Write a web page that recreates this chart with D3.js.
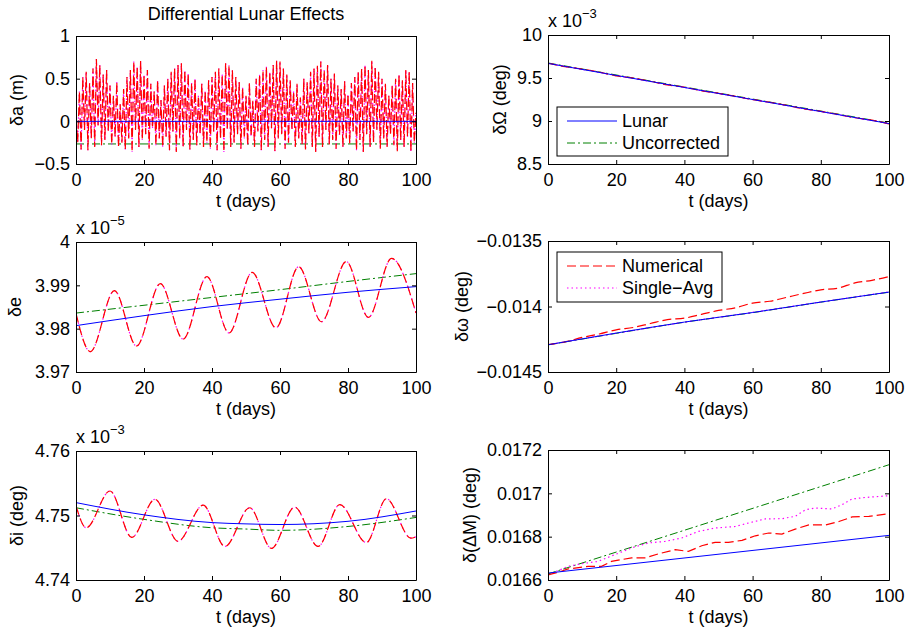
<!DOCTYPE html>
<html><head><meta charset="utf-8">
<script src="https://cdn.jsdelivr.net/npm/d3@7"></script>
<style>
body{margin:0;background:#fff}
svg{display:block}
text{font-family:"Liberation Sans",Arial,Helvetica,sans-serif;fill:#000}
</style>
</head><body>
<svg id="c" width="911" height="631"></svg>
<script>
// ---------- shared ----------
const xTicks = [0, 20, 40, 60, 80, 100];
const xTickLabels = ["0", "20", "40", "60", "80", "100"];
const seriesNames = ["Numerical", "Single\u2212Avg", "Lunar", "Uncorrected"];

// ---------- panel 1 : delta a (m) ----------
const tA = d3.range(0, 100.01, 0.5);
const numA = [
 0.05,-0.25,0.35,-0.33,0.52,-0.1,0.58,-0.34,0.45,-0.2,0.62,-0.3,0.73,-0.05,0.66,-0.28,0.55,-0.22,0.6,-0.12,
 0.42,-0.27,0.3,-0.18,0.46,-0.3,0.2,-0.25,0.38,-0.33,0.52,-0.2,0.6,-0.36,0.7,-0.1,0.64,-0.3,0.71,-0.22,
 0.55,-0.15,0.6,-0.32,0.44,-0.08,0.35,-0.28,0.48,-0.2,0.25,-0.3,0.42,-0.18,0.5,-0.34,0.58,-0.12,0.62,-0.36,
 0.66,-0.2,0.68,-0.3,0.6,-0.1,0.56,-0.33,0.45,-0.22,0.5,-0.28,0.3,-0.15,0.44,-0.3,0.36,-0.25,0.48,-0.32,
 0.52,-0.12,0.58,-0.34,0.62,-0.2,0.55,-0.36,0.68,-0.1,0.66,-0.3,0.6,-0.25,0.52,-0.15,0.46,-0.32,0.4,-0.2,
 0.3,-0.28,0.45,-0.18,0.24,-0.3,0.5,-0.12,0.55,-0.34,0.6,-0.22,0.64,-0.3,0.58,-0.08,0.66,-0.35,0.71,-0.2,
 0.7,-0.15,0.62,-0.32,0.55,-0.25,0.48,-0.1,0.35,-0.3,0.44,-0.2,0.28,-0.27,0.5,-0.33,0.46,-0.14,0.58,-0.3,
 0.62,-0.36,0.65,-0.18,0.7,-0.3,0.6,-0.1,0.66,-0.27,0.5,-0.22,0.56,-0.32,0.42,-0.16,0.38,-0.3,0.47,-0.2,
 0.32,-0.26,0.45,-0.12,0.52,-0.34,0.58,-0.22,0.62,-0.36,0.66,-0.15,0.6,-0.3,0.71,-0.25,0.64,-0.1,0.58,-0.32,
 0.5,-0.2,0.44,-0.3,0.3,-0.15,0.42,-0.28,0.5,-0.35,0.55,-0.22,0.48,-0.3,0.6,-0.18,0.58,-0.36,0.45,-0.25,0.1
];
const singleA = numA;
const tLinA = [0, 100];
const lunarA = [0, 0];
const uncA = [-0.265, -0.265];

// ---------- panel 2 : delta Omega (x1e-3 deg) ----------
const tO = [0,5,10,15,20,25,30,35,40,45,50,55,60,65,70,75,80,85,90,95,100];
const numO = [9.672,9.632,9.604,9.570,9.524,9.498,9.462,9.420,9.394,9.350,9.322,9.286,9.248,9.218,9.182,9.140,9.112,9.076,9.038,9.010,8.966];
const singleO = [9.671,9.634,9.601,9.567,9.527,9.496,9.460,9.423,9.391,9.353,9.320,9.284,9.250,9.216,9.180,9.143,9.110,9.074,9.040,9.006,8.968];
const tLinO = [0, 100];
const lunarO = [9.670, 8.970];
const uncO = [9.675, 8.976];

// ---------- panel 3 : delta e (x1e-5) ----------
const tE = [0,4.2,11.3,17.8,24.8,31.5,38.5,45,51.8,58.8,65.5,72.2,79.5,86,92.8,100];
const numE = [3.9835,3.9747,3.9888,3.9760,3.9904,3.9776,3.9920,3.9790,3.9930,3.9802,3.9943,3.9816,3.9955,3.9826,3.9962,3.9836];
const singleE = numE;
const tSmoothE = [0,20,40,60,80,100];
const lunarE = [3.9807,3.9830,3.9851,3.9868,3.9884,3.9897];
const uncE = [3.9836,3.9854,3.9872,3.9890,3.9909,3.9927];

// ---------- panel 4 : delta omega (deg) ----------
const tW = [0,5,10,15,20,25,30,35,40,45,50,55,60,65,70,75,80,85,90,95,100];
const numW = [-0.01429,-0.01427,-0.014236,-0.01421,-0.014178,-0.01416,-0.01413,-0.01410,-0.014089,-0.01406,-0.01403,-0.01401,-0.013974,-0.01396,-0.01393,-0.01390,-0.013873,-0.01386,-0.01382,-0.01380,-0.013771];
const tSmoothW = [0,20,40,60,80,100];
const singleW = [-0.014292,-0.014204,-0.014120,-0.014045,-0.013966,-0.013889];
const lunarW = [-0.014292,-0.014203,-0.014119,-0.014046,-0.013966,-0.013890];
const uncW = [-0.014293,-0.014205,-0.014120,-0.014047,-0.013967,-0.013891];

// ---------- panel 5 : delta i (x1e-3 deg) ----------
const tI = [0,3,10,16.4,23.2,30,37.4,43.8,51.1,57.5,64.3,71.2,77.6,85.4,91.3,98.5,100];
const numI = [4.7515,4.7481,4.7538,4.7466,4.7525,4.7460,4.7516,4.7452,4.7512,4.7449,4.7513,4.7452,4.7517,4.7458,4.7526,4.7465,4.7467];
const singleI = numI;
const tSmoothI = [0,20,40,50,60,80,100];
const lunarI = [4.7520,4.7501,4.7489,4.7487,4.7486,4.7491,4.7507];
const uncI = [4.7512,4.7494,4.7481,4.7479,4.7477,4.7483,4.7497];

// ---------- panel 6 : delta (Delta M) (deg) ----------
const tM = [0,2.9,5.9,11.8,15.7,18.6,24.5,28.4,32.4,37.3,41.2,45.1,49,52.9,56.9,60.8,64.7,68.6,72.5,76.5,81.4,85.3,89.2,94.1,100];
const numM = [0.016624,0.016635,0.016651,0.016663,0.016663,0.016686,0.016702,0.016702,0.016721,0.016740,0.016732,0.016758,0.016774,0.016774,0.016783,0.016804,0.016817,0.016812,0.016835,0.016854,0.016854,0.016870,0.016891,0.016894,0.016906];
const tS = [0,5.9,9.8,14.7,19.6,24.5,29.4,34.3,39.2,44.1,49,54.9,58.8,63.7,68.6,72.5,75.5,78.4,83.3,86.3,89.2,93.1,100];
const singleM = [0.016624,0.016663,0.016675,0.016686,0.016717,0.016748,0.016771,0.016778,0.016794,0.016824,0.016840,0.016847,0.016863,0.016882,0.016883,0.016894,0.016924,0.016932,0.016928,0.016948,0.016974,0.016981,0.016989];
const tLinM = [0, 100];
const lunarM = [0.016632, 0.016806];
const uncM = [0.016628, 0.017132];

// ---------- styles ----------
const style = {
  num:   {color:"#ff0000", dash:"9,4", width:1.2},
  single:{color:"#ff00ff", dash:"1.5,3", width:1.2},
  lunar: {color:"#0000ff", dash:null, width:1},
  unc:   {color:"#008000", dash:"8,3,2,3", width:1}
};

const zip = (t, v) => t.map((d, i) => [d, v[i]]);

const panels = [
  {x:76, y:36, w:340, h:128, dom:[-0.5,1], ticks:[-0.5,0,0.5,1], labels:["\u22120.5","0","0.5","1"],
   ylabel:"\u03b4a (m)", ylx:17, exp:null, curve:d3.curveLinear,
   series:[["unc",zip(tLinA,uncA)],["single",zip(tA,singleA)],["num",zip(tA,numA)],["lunar",zip(tLinA,lunarA)]]},
  {x:548, y:35, w:341, h:129, dom:[8.5,10], ticks:[8.5,9,9.5,10], labels:["8.5","9","9.5","10"],
   ylabel:"\u03b4\u03a9 (deg)", ylx:500, exp:"\u22123", curve:d3.curveMonotoneX,
   series:[["unc",zip(tLinO,uncO)],["single",zip(tO,singleO)],["num",zip(tO,numO)],["lunar",zip(tLinO,lunarO)]],
   legend:{x:557, y:107, w:171, h:49, items:["lunar","unc"], names:["Lunar","Uncorrected"]}},
  {x:76, y:242, w:340, h:130, dom:[3.97,4.0], ticks:[3.97,3.98,3.99,4.0], labels:["3.97","3.98","3.99","4"],
   ylabel:"\u03b4e", ylx:15, exp:"\u22125", curve:d3.curveMonotoneX,
   series:[["unc",zip(tSmoothE,uncE)],["single",zip(tE,singleE)],["num",zip(tE,numE)],["lunar",zip(tSmoothE,lunarE)]]},
  {x:548, y:241, w:341, h:131, dom:[-0.0145,-0.0135], ticks:[-0.0145,-0.014,-0.0135], labels:["\u22120.0145","\u22120.014","\u22120.0135"],
   ylabel:"\u03b4\u03c9 (deg)", ylx:462, exp:null, curve:d3.curveMonotoneX,
   series:[["unc",zip(tSmoothW,uncW)],["single",zip(tSmoothW,singleW)],["num",zip(tW,numW)],["lunar",zip(tSmoothW,lunarW)]],
   legend:{x:557, y:252, w:165, h:50, items:["num","single"], names:["Numerical","Single\u2212Avg"]}},
  {x:76, y:451, w:340, h:129, dom:[4.74,4.76], ticks:[4.74,4.75,4.76], labels:["4.74","4.75","4.76"],
   ylabel:"\u03b4i (deg)", ylx:17, exp:"\u22123", curve:d3.curveMonotoneX,
   series:[["unc",zip(tSmoothI,uncI)],["single",zip(tI,singleI)],["num",zip(tI,numI)],["lunar",zip(tSmoothI,lunarI)]]},
  {x:548, y:450, w:341, h:130, dom:[0.0166,0.0172], ticks:[0.0166,0.0168,0.017,0.0172], labels:["0.0166","0.0168","0.017","0.0172"],
   ylabel:"\u03b4(\u0394M) (deg)", ylx:470, exp:null, curve:d3.curveLinear,
   series:[["unc",zip(tLinM,uncM)],["single",zip(tS,singleM)],["num",zip(tM,numM)],["lunar",zip(tLinM,lunarM)]]}
];

const svg = d3.select("#c");
const FS = 18;

svg.append("text").attr("x", 246).attr("y", 20).attr("text-anchor","middle")
  .style("font-size", FS + "px").text("Differential Lunar Effects");

panels.forEach(p => {
  const g = svg.append("g").attr("transform", `translate(${p.x},${p.y})`);
  const x = d3.scaleLinear().domain([0,100]).range([0,p.w]);
  const y = d3.scaleLinear().domain(p.dom).range([p.h,0]);

  const clipId = "clip" + p.x + "_" + p.y;
  g.append("clipPath").attr("id", clipId).append("rect").attr("width", p.w).attr("height", p.h);
  const plot = g.append("g").attr("clip-path", `url(#${clipId})`);

  p.series.forEach(([key, data]) => {
    const s = style[key];
    const line = d3.line().x(d => x(d[0])).y(d => y(d[1])).curve(p.curve);
    plot.append("path").datum(data).attr("d", line)
      .attr("fill","none").attr("stroke", s.color).attr("stroke-width", s.width)
      .attr("stroke-dasharray", s.dash);
  });

  // axes with inward ticks
  const fmtY = v => p.labels[p.ticks.indexOf(v)];
  const fmtX = v => xTickLabels[xTicks.indexOf(v)];
  const ax = (sel) => { sel.selectAll("path.domain").attr("stroke","#000"); sel.selectAll("line").attr("stroke","#000"); sel.selectAll("text").style("font-size", FS + "px").style("font-family",'"Liberation Sans",Arial,sans-serif').attr("fill","#000"); };
  g.append("g").attr("transform",`translate(0,${p.h})`)
    .call(d3.axisBottom(x).tickValues(xTicks).tickFormat(fmtX).tickSizeInner(-4).tickSizeOuter(0).tickPadding(9)).call(ax);
  g.append("g")
    .call(d3.axisTop(x).tickValues(xTicks).tickFormat("").tickSizeInner(-4).tickSizeOuter(0)).call(ax);
  g.append("g")
    .call(d3.axisLeft(y).tickValues(p.ticks).tickFormat(fmtY).tickSizeInner(-4).tickSizeOuter(0).tickPadding(6)).call(ax);
  g.append("g").attr("transform",`translate(${p.w},0)`)
    .call(d3.axisRight(y).tickValues(p.ticks).tickFormat("").tickSizeInner(-4).tickSizeOuter(0)).call(ax);
  g.selectAll(".domain").attr("stroke-width",1);

  // x label
  g.append("text").attr("x", p.w/2).attr("y", p.h + 43).attr("text-anchor","middle")
    .style("font-size", FS + "px").text("t (days)");
  // y label
  svg.append("text").attr("transform", `translate(${p.ylx},${p.y + p.h/2}) rotate(-90)`)
    .attr("text-anchor","middle").attr("dy","0.35em").style("font-size", FS + "px").text(p.ylabel);
  // exponent
  if (p.exp) {
    const t = g.append("text").attr("x", 0).attr("y", -8).style("font-size", FS + "px");
    t.append("tspan").text("x 10");
    t.append("tspan").attr("dy", -9).style("font-size", "13px").text(p.exp);
  }
  // legend
  if (p.legend) {
    const L = p.legend;
    svg.append("rect").attr("x", L.x).attr("y", L.y).attr("width", L.w).attr("height", L.h)
      .attr("fill","#fff").attr("stroke","#000").attr("stroke-width",1);
    L.items.forEach((k, i) => {
      const s = style[k];
      const cy = L.y + 14 + i * 22;
      svg.append("line").attr("x1", L.x + 10).attr("x2", L.x + 60).attr("y1", cy).attr("y2", cy)
        .attr("stroke", s.color).attr("stroke-width", s.width).attr("stroke-dasharray", s.dash);
      svg.append("text").attr("x", L.x + 65).attr("y", cy).attr("dy","0.35em")
        .style("font-size", FS + "px").text(L.names[i]);
    });
  }
});
</script>
</body></html>
